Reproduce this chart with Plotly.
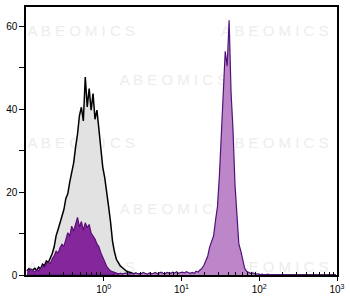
import numpy as np
import plotly.graph_objects as go

# Histogram channels: 160 bins across 4 decades (10^-1 .. 10^3)
n_bins = 160
channels = np.arange(n_bins)
intensity = 10 ** (-1 + (channels + 0.5) * 0.025)

# Gray (isotype / unstained) counts per channel
gray_counts = [
    1.0, 1.5, 0.8, 1.3, 1.6, 1.1, 1.9, 1.5, 2.6, 2.2,
    3.4, 3.0, 4.1, 5.2, 6.8, 9.5, 11.0, 12.5, 14.2, 15.8,
    18.5, 19.6, 22.4, 24.5, 27.0, 30.8, 34.0, 38.5, 40.5, 37.2,
    47.8, 40.6, 45.0, 39.8, 43.8, 37.6, 39.8, 35.2, 31.0, 26.0,
    23.5, 20.5, 16.5, 12.8, 8.2, 5.6, 3.8, 3.0, 2.2, 1.8,
    1.3, 1.0, 0.8, 0.6, 0.5, 0.3, 0.4, 0.2, 0.3, 0.1,
    0.3, 0.2, 0.1, 0.3, 0.2, 0.0, 0.2, 0.1, 0.3, 0.1,
    0.2, 0.0, 0.1, 0.2, 0.0, 0.1, 0.2, 0.0, 0.1, 0.0,
    0.1, 0.0, 0.1, 0.0, 0.0, 0.1, 0.0, 0.0, 0.1, 0.0,
] + [0.0] * 70

# Dark purple (control) counts per channel
dark_counts = [
    1.2, 0.8, 1.5, 1.0, 0.7, 1.3, 1.0, 1.6, 2.2, 1.9,
    2.8, 3.1, 2.7, 3.9, 4.6, 5.8, 5.2, 6.6, 7.4, 6.9,
    8.8, 10.2, 9.4, 11.8, 10.6, 12.5, 13.9, 11.6, 12.9, 10.8,
    12.6, 11.4, 12.2, 10.1, 9.3, 8.7, 7.5, 6.8, 5.4, 4.2,
    2.9, 2.1, 1.5, 1.0, 0.8, 0.6, 0.5, 0.3, 0.4, 0.2,
    0.3, 0.2, 0.1, 0.2, 0.1, 0.0, 0.1, 0.2, 0.0, 0.1,
] + [0.0] * 100

# Light purple (stained) counts per channel
light_counts = [0.0] * 45 + [
    0.2, 0.3, 0.1, 0.4, 0.2, 0.3, 0.5, 0.2, 0.3, 0.4,
    0.2, 0.5, 0.3, 0.2, 0.4, 0.6, 0.3, 0.2, 0.5, 0.3,
    0.4, 0.6, 0.3, 0.5, 0.7, 0.4, 0.3, 0.6, 0.5, 0.4,
    0.7, 0.5, 0.8, 0.4, 0.6, 0.7, 0.5, 0.8, 0.6, 0.4,
    0.6, 0.4, 0.9, 0.7, 1.2, 1.6, 2.3, 3.5, 4.6, 6.8,
    8.1, 9.4, 13.2, 16.5, 24.0, 33.5, 43.0, 54.0, 50.5, 61.5,
    44.0, 35.0, 22.0, 13.0, 7.5, 5.8, 3.9, 1.6, 0.9, 0.6,
    0.4, 0.5, 0.3, 0.2, 0.3, 0.1, 0.2, 0.0, 0.1, 0.2,
    0.0, 0.1, 0.0, 0.1, 0.0, 0.0, 0.1, 0.0, 0.0, 0.1,
    0.0, 0.0, 0.1, 0.0, 0.0, 0.0, 0.1, 0.0, 0.0, 0.0,
    0.0, 0.1, 0.0, 0.0, 0.0,
]

y_tickvals = [0, 20, 40, 60]
x_tickvals = [1, 10, 100, 1000]
x_ticktext = ["10<sup>0</sup>", "10<sup>1</sup>", "10<sup>2</sup>", "10<sup>3</sup>"]

wm_x = [0.513, 158.5, 7.89, 0.513, 158.5, 7.89, 0.513, 158.5]
wm_y = [58.7, 58.7, 46.7, 31.6, 31.6, 15.6, 1.7, 1.7]
wm_text = ["A B E O M I C S"] * 8

fig = go.Figure()

fig.add_trace(go.Scatter(
    x=wm_x, y=wm_y, text=wm_text, mode="text",
    textfont=dict(family="Liberation Sans", size=15, color="#ededed"),
    hoverinfo="skip", showlegend=False,
))

fig.add_trace(go.Scatter(
    x=intensity, y=gray_counts, mode="lines", fill="tozeroy",
    fillcolor="#e2e2e2", line=dict(color="#000000", width=1.5),
    showlegend=False,
))
fig.add_trace(go.Scatter(
    x=intensity, y=dark_counts, mode="lines", fill="tozeroy",
    fillcolor="#84279a", line=dict(color="#5a0f78", width=1.2),
    showlegend=False,
))
fig.add_trace(go.Scatter(
    x=intensity, y=light_counts, mode="lines", fill="tozeroy",
    fillcolor="#bd86c9", line=dict(color="#4e1378", width=1.2),
    showlegend=False,
))

minor_vals = [m * 10 ** d for d in range(-1, 3) for m in range(2, 10)]

fig.update_layout(
    width=350, height=301,
    margin=dict(l=26, r=13, t=5, b=26),
    paper_bgcolor="white", plot_bgcolor="white",
    font=dict(family="Liberation Sans", size=10, color="#000000"),
    showlegend=False,
)
fig.update_xaxes(
    type="log", range=[-1, 3],
    tickvals=x_tickvals, ticktext=x_ticktext,
    ticks="outside", ticklen=4, tickwidth=1, tickcolor="black",
    showline=True, linecolor="black", linewidth=1.5, mirror=True,
    showgrid=False, zeroline=False,
    minor=dict(tickvals=minor_vals, ticks="inside", ticklen=3, tickcolor="black", showgrid=False),
    tickfont=dict(size=10),
)
fig.update_yaxes(
    range=[0, 64.7],
    tickvals=y_tickvals,
    ticks="outside", ticklen=5, tickwidth=1, tickcolor="black",
    minor=dict(dtick=10, ticks="outside", ticklen=5, tickcolor="black", showgrid=False),
    showline=True, linecolor="black", linewidth=1.5, mirror=True,
    showgrid=False, zeroline=False,
    tickfont=dict(size=10),
)

fig.write_html("out.html")
